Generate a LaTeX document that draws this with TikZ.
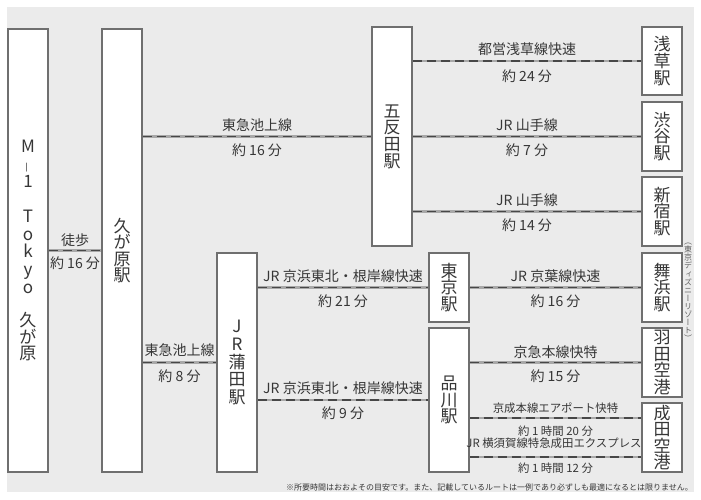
\documentclass[tikz,border=0pt]{standalone}
\usepackage{fontspec}
\usepackage{graphicx}
\setmainfont{Noto Sans CJK JP}
\newfontfamily\jpvert[RawFeature=+vert]{Noto Sans CJK JP}
\definecolor{bgc}{HTML}{EBEBEB}
\definecolor{edgec}{HTML}{6F6F6F}
\definecolor{inkc}{HTML}{363636}
\definecolor{bandc}{HTML}{A8A8A8}
\definecolor{dashc}{HTML}{474747}
\lineskiplimit=-30pt
\lineskip=0pt
\newcommand\stnfont{\fontsize{17}{16.6}\selectfont}
\newcommand\stnfontb{\fontsize{17}{17.6}\selectfont}
\newcommand\lblfont{\fontsize{14}{16}\selectfont}
\newcommand\smlfont{\fontsize{11.4}{13}\selectfont}
\newcommand\vsidefont{\jpvert\fontsize{8}{8.1}\selectfont}
\newcommand\notefont{\fontsize{8}{9}\selectfont}
\newcommand\vbar{{\raisebox{1pt}{\rotatebox[origin=c]{90}{\fontsize{11}{11}\selectfont —}}}}
\begin{document}
\begin{tikzpicture}[x=1pt,y=-1pt,
  stn/.style={draw=edgec, line width=1.1pt, fill=white, inner sep=0pt,
    align=center, text=inkc, font=\stnfont, minimum width=40pt},
  route/.style={draw=bandc, line width=2.8pt,
    postaction={draw=dashc, line width=1.5pt, dash pattern=on 9pt off 5pt}},
  lbl/.style={text=inkc, font=\lblfont, inner sep=0pt},
  sml/.style={text=inkc, font=\smlfont, inner sep=0pt}]
\useasboundingbox (0,0) rectangle (701,500);
\fill[white] (0,0) rectangle (701,500);
\fill[bgc] (7,7) rectangle (694,492);

% stations
\node[stn, minimum height=443pt, font=\stnfontb] (m1) at (28,250.5)
  {M\\\vbar\\1\\[17.6pt]T\\o\\k\\y\\o\\[16pt]久\\[-1pt]が\\[-1pt]原};
\node[stn, minimum height=443pt] (kugahara) at (122,250.5) {久\\が\\原\\駅};
\node[stn, minimum height=219pt] (gotanda) at (392,136.5) {五\\反\\田\\駅};
\node[stn, minimum height=68pt] (asakusa) at (662,61) {浅\\草\\駅};
\node[stn, minimum height=69pt] (shibuya) at (662,136.5) {渋\\谷\\駅};
\node[stn, minimum height=69pt] (shinjuku) at (662,211.5) {新\\宿\\駅};
\node[stn, minimum height=219pt, font=\stnfontb] (kamata) at (237,362.5) {J\\R\\蒲\\田\\駅};
\node[stn, minimum height=69pt] (tokyo) at (449,287.5) {東\\京\\駅};
\node[stn, minimum height=144pt] (shinagawa) at (449,400) {品\\川\\駅};
\node[stn, minimum height=69pt] (maihama) at (662,287.5) {舞\\浜\\駅};
\node[stn, minimum height=69pt] (haneda) at (662,362.5) {羽\\田\\空\\港};
\node[stn, minimum height=69pt] (narita) at (662,437.5) {成\\田\\空\\港};

% routes
\draw[route] (m1.east) -- (kugahara.west);
\draw[route] (gotanda.west -| kugahara.east) -- (gotanda.west);
\draw[route] (asakusa.west -| gotanda.east) -- (asakusa.west);
\draw[route] (gotanda.east) -- (shibuya.west);
\draw[route] (shinjuku.west -| gotanda.east) -- (shinjuku.west);
\draw[route] (tokyo.west -| kamata.east) -- (tokyo.west);
\draw[route] (tokyo.east) -- (maihama.west);
\draw[route] (kamata.west -| kugahara.east) -- (kamata.west);
\draw[route] (shinagawa.west -| kamata.east) -- (shinagawa.west);
\draw[route] (haneda.west -| shinagawa.east) -- (haneda.west);
\coordinate (nu) at ([yshift=19.5pt]narita.west);
\coordinate (nd) at ([yshift=-19.5pt]narita.west);
\draw[route] (nu -| shinagawa.east) -- (nu);
\draw[route] (nd -| shinagawa.east) -- (nd);

% labels
\node[lbl] (l1a) at (75,240) {徒歩};
\node[lbl] (l1b) at (75,263) {約 16 分};
\node[lbl] (l2a) at (257,125) {東急池上線};
\node[lbl] (l2b) at (257,150) {約 16 分};
\node[lbl] (l3a) at (527,49) {都営浅草線快速};
\node[lbl] (l3b) at (527,76) {約 24 分};
\node[lbl] (l4a) at (527,125) {JR 山手線};
\node[lbl] (l4b) at (527,150) {約 7 分};
\node[lbl] (l5a) at (527,200) {JR 山手線};
\node[lbl] (l5b) at (527,225) {約 14 分};
\node[lbl] (l6a) at (343,276) {JR 京浜東北・根岸線快速};
\node[lbl] (l6b) at (343,301) {約 21 分};
\node[lbl] (l7a) at (555.5,276) {JR 京葉線快速};
\node[lbl] (l7b) at (555.5,301) {約 16 分};
\node[lbl] (l8a) at (179.5,350) {東急池上線};
\node[lbl] (l8b) at (179.5,376) {約 8 分};
\node[lbl] (l9a) at (343,388) {JR 京浜東北・根岸線快速};
\node[lbl] (l9b) at (343,413) {約 9 分};
\node[lbl] (l10a) at (555.5,352) {京急本線快特};
\node[lbl] (l10b) at (555.5,376) {約 15 分};
\node[sml] (l11a) at (555.5,408) {京成本線エアポート快特};
\node[sml] (l11b) at (555.5,431) {約 1 時間 20 分};
\node[sml] (l12a) at (554,443) {JR 横須賀線特急成田エクスプレス};
\node[sml] (l12b) at (555.5,468) {約 1 時間 12 分};

% side note
\node[text=inkc!80, inner sep=0pt, align=center, font=\vsidefont] (disney) at (688,292.5)
  {（\\東\\京\\デ\\ィ\\ズ\\ニ\\ー\\リ\\ゾ\\ー\\ト\\）};

% footnote
\node[anchor=east, text=inkc, inner sep=0pt, font=\notefont] (note) at (693,487)
  {※所要時間はおおよその目安です。また、記載しているルートは一例であり必ずしも最適になるとは限りません。};
\end{tikzpicture}
\end{document}
